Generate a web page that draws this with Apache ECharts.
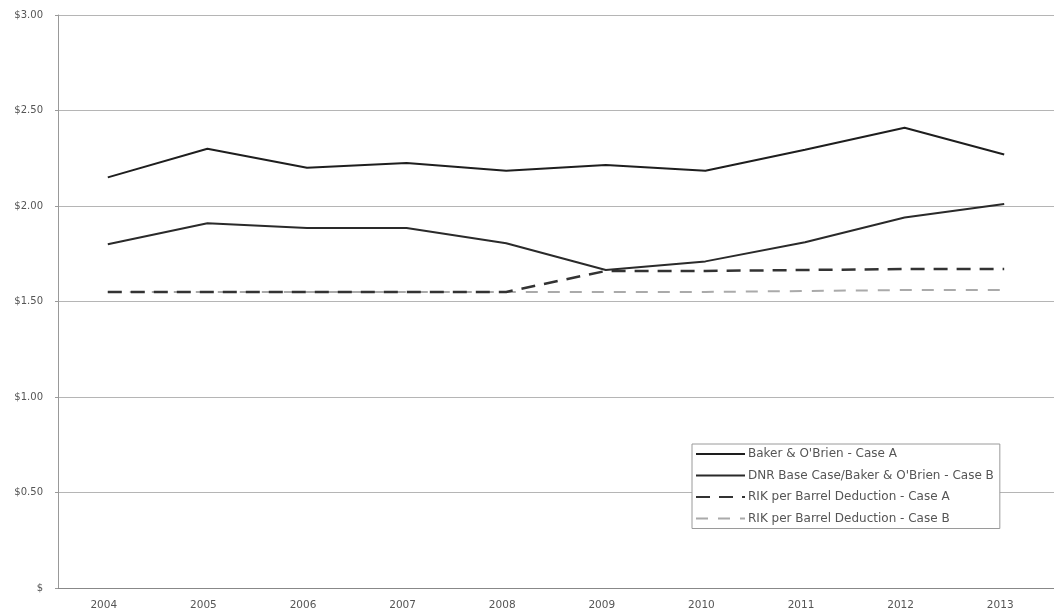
<!DOCTYPE html>
<html>
<head>
<meta charset="utf-8">
<script src="https://cdn.jsdelivr.net/npm/echarts@6/dist/echarts.min.js"></script>
<style>
  html, body { margin: 0; padding: 0; background: #fff; }
  #chart { width: 1054px; height: 614px; }
</style>
</head>
<body>
<div id="chart"></div>
<script>
// Years on the horizontal axis
const years = ['2004', '2005', '2006', '2007', '2008', '2009', '2010', '2011', '2012', '2013'];

// Dollars per barrel
const bakerCaseA = [2.15, 2.30, 2.20, 2.225, 2.185, 2.215, 2.185, 2.295, 2.41, 2.27];
const dnrCaseB = [1.80, 1.91, 1.885, 1.885, 1.805, 1.665, 1.71, 1.81, 1.94, 2.01];
const rikCaseA = [1.55, 1.55, 1.55, 1.55, 1.55, 1.66, 1.66, 1.665, 1.67, 1.67];
const rikCaseB = [1.55, 1.55, 1.55, 1.55, 1.55, 1.55, 1.55, 1.555, 1.56, 1.56];

const seriesNames = [
  'Baker & O\'Brien - Case A',
  'DNR Base Case/Baker & O\'Brien - Case B',
  'RIK per Barrel Deduction - Case A',
  'RIK per Barrel Deduction - Case B'
];

const yTicks = { 0: '$', 0.5: '$0.50', 1: '$1.00', 1.5: '$1.50', 2: '$2.00', 2.5: '$2.50', 3: '$3.00' };

const chart = echarts.init(document.getElementById('chart'), null, { renderer: 'canvas' });

const font = '"DejaVu Sans", Verdana, sans-serif';

chart.setOption({
  backgroundColor: '#ffffff',
  animation: false,
  grid: { left: 58, right: -9, top: 15, bottom: 26, containLabel: false },
  legend: {
    left: 692,
    top: 444,
    orient: 'vertical',
    itemWidth: 49,
    itemHeight: 10,
    itemGap: 9.5,
    padding: [4, 6, 4, 3],
    borderColor: '#9a9a9a',
    borderWidth: 1,
    backgroundColor: '#fff',
    itemStyle: { opacity: 0 },
    textStyle: { fontFamily: font, fontSize: 12, lineHeight: 12, color: '#555', padding: [0, 0, 0, -2] },
    data: seriesNames
  },
  xAxis: {
    type: 'category',
    data: years,
    boundaryGap: true,
    axisLine: { lineStyle: { color: '#888', width: 1 } },
    axisTick: { show: false },
    axisLabel: { fontFamily: font, fontSize: 10.5, color: '#555', margin: 12, padding: [0, 8, 0, 0] },
    splitLine: { show: false }
  },
  yAxis: {
    type: 'value',
    min: 0,
    max: 3,
    interval: 0.5,
    axisLine: { show: true, lineStyle: { color: '#999', width: 1 } },
    axisTick: { show: true, length: 3, lineStyle: { color: '#999' } },
    axisLabel: {
      fontFamily: font, fontSize: 10, color: '#555', margin: 15,
      formatter: v => yTicks[v] !== undefined ? yTicks[v] : ''
    },
    splitLine: { lineStyle: { color: '#b5b5b5', width: 1 } }
  },
  series: [
    {
      name: seriesNames[0], type: 'line', data: bakerCaseA,
      symbol: 'none', z: 4,
      lineStyle: { color: '#1e1e1e', width: 2 },
      itemStyle: { color: '#1e1e1e' }
    },
    {
      name: seriesNames[1], type: 'line', data: dnrCaseB,
      symbol: 'none', z: 4,
      lineStyle: { color: '#2a2a2a', width: 2 },
      itemStyle: { color: '#2a2a2a' }
    },
    {
      name: seriesNames[2], type: 'line', data: rikCaseA,
      symbol: 'none', z: 3,
      lineStyle: { color: '#333', width: 2.5, type: [14, 9] },
      itemStyle: { color: '#333' }
    },
    {
      name: seriesNames[3], type: 'line', data: rikCaseB,
      symbol: 'none', z: 2,
      lineStyle: { color: '#aaaaaa', width: 2, type: [12, 10] },
      itemStyle: { color: '#aaaaaa' }
    }
  ]
});
</script>
</body>
</html>
